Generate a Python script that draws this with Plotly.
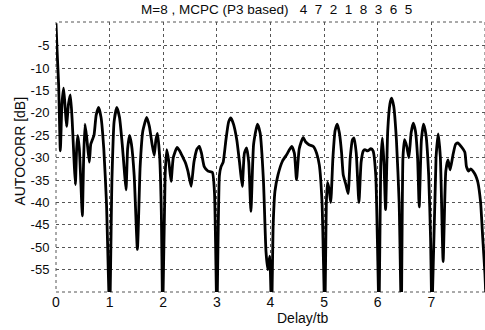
import plotly.graph_objects as go

# Autocorrelation curve (delay in tb, level in dB)
delay = [0, 0.02, 0.05, 0.081, 0.111, 0.142, 0.172, 0.197, 0.233, 0.268, 0.303, 0.334, 0.361,
         0.385, 0.405, 0.435, 0.465, 0.491, 0.516, 0.541, 0.577, 0.621, 0.648, 0.678, 0.709,
         0.749, 0.795, 0.84, 0.891, 0.941, 1.0, 1.043, 1.083, 1.134, 1.184, 1.235, 1.275, 1.306,
         1.336, 1.372, 1.407, 1.458, 1.518, 1.569, 1.62, 1.691, 1.741, 1.792, 1.832, 1.863, 1.893,
         1.934, 1.964, 1.99, 2.035, 2.065, 2.106, 2.146, 2.187, 2.258, 2.308, 2.369, 2.41, 2.46,
         2.521, 2.572, 2.632, 2.673, 2.713, 2.764, 2.835, 2.916, 2.956, 3.0, 3.047, 3.078, 3.118,
         3.169, 3.219, 3.26, 3.31, 3.371, 3.422, 3.473, 3.513, 3.554, 3.594, 3.635, 3.685, 3.756,
         3.807, 3.868, 3.916, 3.95, 3.985, 4.02, 4.05, 4.083, 4.141, 4.222, 4.303, 4.394, 4.445,
         4.485, 4.536, 4.607, 4.657, 4.718, 4.799, 4.86, 4.91, 4.961, 5.012, 5.042, 5.062, 5.093,
         5.123, 5.164, 5.204, 5.245, 5.285, 5.326, 5.356, 5.406, 5.447, 5.487, 5.528, 5.558, 5.599,
         5.649, 5.69, 5.73, 5.761, 5.811, 5.872, 5.913, 5.963, 6.024, 6.055, 6.085, 6.115, 6.146,
         6.186, 6.227, 6.257, 6.298, 6.348, 6.399, 6.439, 6.47, 6.5, 6.541, 6.581, 6.622, 6.662,
         6.702, 6.743, 6.773, 6.814, 6.854, 6.9, 6.95, 6.985, 7.011, 7.087, 7.127, 7.168, 7.219,
         7.269, 7.31, 7.35, 7.401, 7.452, 7.492, 7.553, 7.624, 7.654, 7.695, 7.735, 7.776, 7.826,
         7.867, 7.918, 7.958, 7.999, 8.03]
autocorr_db = [0, -6, -14, -28.5, -18, -14.5, -19, -23, -18, -16, -22, -30, -36,
               -28, -25, -28, -36, -43, -30, -22.5, -26, -31, -27, -26, -25,
               -20.5, -18.8, -21, -28, -40, -65, -35, -22, -18.8, -21, -27, -33, -37.2,
               -28, -25, -27, -34, -50.5, -32, -24, -21, -23, -27, -29.5, -26, -24.6,
               -30, -42, -65, -34, -28.2, -31, -35.3, -30, -27.7, -28.5, -30, -31, -33,
               -36.4, -31, -28, -27.5, -29, -32, -33, -33.3, -38, -65, -34, -32, -31,
               -26, -22, -21.1, -22.5, -26, -31, -36.4, -29, -27.8, -31, -42, -27, -22.5,
               -24.5, -35, -51, -55, -52, -65, -45, -37.5, -33.8, -30.8, -29.3, -27.5, -29,
               -34.9, -28, -25.5, -26.5, -27.1, -27.5, -29, -31.6, -40, -65, -40, -35.5, -37,
               -40, -30, -24, -22.5, -24.5, -29, -33.8, -36, -38, -30, -26, -25.6, -29,
               -40, -31, -28.5, -28.2, -28.5, -28, -28.5, -34, -65, -32, -25.6, -31, -41.6,
               -24, -18, -16.7, -18.5, -26, -40, -65, -30, -26, -27.5, -30, -24.5, -22.3,
               -24, -30, -41, -26, -22.5, -25, -34, -48, -65, -30, -24.7, -30, -53.2,
               -33, -30.5, -32.7, -29.5, -27, -26.7, -27.5, -28.8, -32, -33, -32.5, -33, -34,
               -35.5, -40, -48, -56, -65]

x_ticks = [0, 1, 2, 3, 4, 5, 6, 7, 8]
y_ticks = [-55, -50, -45, -40, -35, -30, -25, -20, -15, -10, -5]
y_tick_text = ["-55", "-50", "-45", "-40", "-35", "-30", "-25", "-20", "-15", "-10", "-5"]

title_text = "M=8 , MCPC (P3 based)\u00a0\u00a0\u00a0" + "\u00a0\u00a0".join(["4", "7", "2", "1", "8", "3", "6", "5"])

FONT = "Liberation Sans, Arial, Helvetica, sans-serif"
GRID = "#555555"
INK = "#0a0a0a"

fig = go.Figure()
fig.add_trace(go.Scatter(
    x=delay, y=autocorr_db, mode="lines",
    line=dict(color="black", width=2.8, shape="spline", smoothing=0.5),
    hoverinfo="skip", showlegend=False,
))

fig.update_layout(
    width=485, height=330,
    margin=dict(l=56, r=0, t=22, b=38),
    paper_bgcolor="white", plot_bgcolor="white",
    font=dict(family=FONT, size=13, color=INK),
    xaxis=dict(range=[0, 8], tickvals=x_ticks, ticktext=[str(v) for v in x_ticks],
               showgrid=True, gridcolor=GRID, griddash="dot", gridwidth=1,
               zeroline=False, showline=False, ticks="",
               tickfont=dict(size=14, color=INK)),
    yaxis=dict(range=[-60, 0.3], tickvals=y_ticks, ticktext=y_tick_text,
               showgrid=True, gridcolor=GRID, griddash="dot", gridwidth=1,
               zeroline=False, showline=False, ticks="outside", ticklen=3,
               tickcolor="rgba(0,0,0,0)", tickfont=dict(size=13, color=INK)),
    shapes=[dict(type="rect", xref="paper", yref="paper", x0=0, x1=1, y0=0, y1=1,
                 line=dict(color=GRID, width=1, dash="dot"), layer="below")],
    annotations=[
        dict(text=title_text, xref="paper", yref="paper", x=0.515, y=1.046,
             xanchor="center", yanchor="middle", showarrow=False,
             font=dict(size=13.5, color=INK)),
        dict(text="AUTOCORR [dB]", xref="paper", yref="paper", x=-0.0839, y=0.52,
             xanchor="center", yanchor="middle", textangle=-90, showarrow=False,
             font=dict(size=14, color=INK)),
        dict(text="Delay/tb", xref="paper", yref="paper", x=0.5746, y=-0.0963,
             xanchor="center", yanchor="middle", showarrow=False,
             font=dict(size=14, color=INK)),
    ],
)

fig.write_html("out.html")
